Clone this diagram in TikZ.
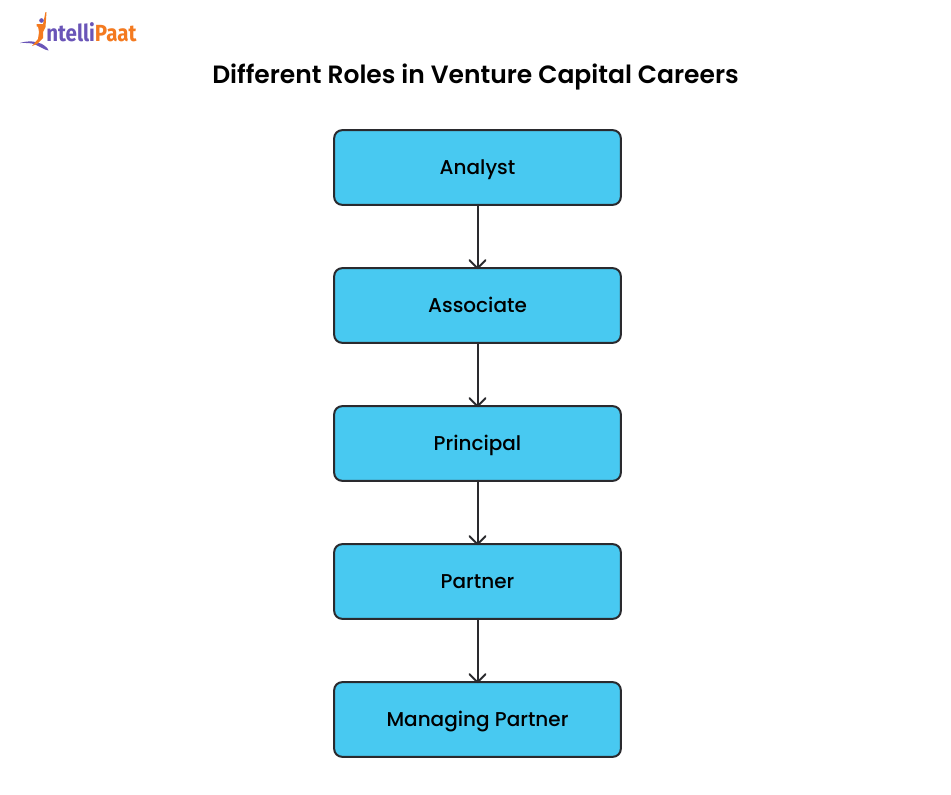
\documentclass[tikz,border=0pt]{standalone}
\usepackage{fontspec}
\setmainfont{Poppins}[UprightFont=* Medium,BoldFont=* SemiBold]
\newfontfamily\logofont{Fira Sans}[UprightFont=* Bold,FakeStretch=0.88]
\usetikzlibrary{positioning}
\definecolor{rolefill}{HTML}{48C9F1}
\definecolor{roleline}{HTML}{2A2A2E}
\definecolor{logopurple}{HTML}{6A55B8}
\definecolor{logoorange}{HTML}{F47A20}
\tikzset{
  rolebox/.style={draw=roleline, fill=rolefill, line width=1.5pt, rounded corners=6pt,
    minimum width=215pt, minimum height=56pt, inner sep=0pt, outer sep=0pt,
    text height=14.2pt, text depth=3pt, font=\fontsize{15}{18}\selectfont},
  roleflow/.style={draw=roleline, line width=1.5pt, line cap=round}
}
\begin{document}
\begin{tikzpicture}[x=0.75pt, y=-0.75pt, node distance=47.5pt]
\useasboundingbox (0,0) rectangle (951,794);
\fill[white] (0,0) rectangle (951,794);

% Title
\node[anchor=base, font=\bfseries\fontsize{18.75}{22}\selectfont] (title) at (475.5,83) {Different Roles in Venture Capital Careers};

% Roles
\node[rolebox] (analyst) at (477.5,167.5) {Analyst};
\node[rolebox, below=of analyst] (associate) {Associate};
\node[rolebox, below=of associate] (principal) {Principal};
\node[rolebox, below=of principal] (partner) {Partner};
\node[rolebox, below=of partner] (managing) {Managing Partner};

\foreach \a/\b in {analyst/associate, associate/principal, principal/partner, partner/managing}{
  \draw[roleflow] (\a.south) -- (\b.north);
  \draw[roleflow, line join=round] ([xshift=-6pt,yshift=6pt]\b.north) -- (\b.north) -- ([xshift=6pt,yshift=6pt]\b.north);
}

% Logo
\node[anchor=base west, inner sep=0pt, font=\logofont\fontsize{17.5}{20}\selectfont] (logo) at (46,41) {\textcolor{logopurple}{ntelli}\textcolor{logoorange}{Paat}};
\fill[logopurple] (20,43) .. controls (28,40.5) and (36,41) .. (42,44) .. controls (45,46) and (48,48) .. (48.5,50.5) .. controls (44,50) and (38,45) .. (32,43.5) .. controls (28,42.8) and (24,43) .. (20,43) -- cycle;
\fill[logoorange] (45.5,12) -- (46.5,12) -- (45.5,27) -- (43,32) -- (43,38) -- (37,44) -- (32,46) -- (38,39) -- (39,32) -- (38,26) -- (37,27) -- (36.5,24) -- (40,24) -- (43,24) -- cycle;
\fill[logopurple] (41.5,20.5) circle[radius=2.3];
\end{tikzpicture}
\end{document}
